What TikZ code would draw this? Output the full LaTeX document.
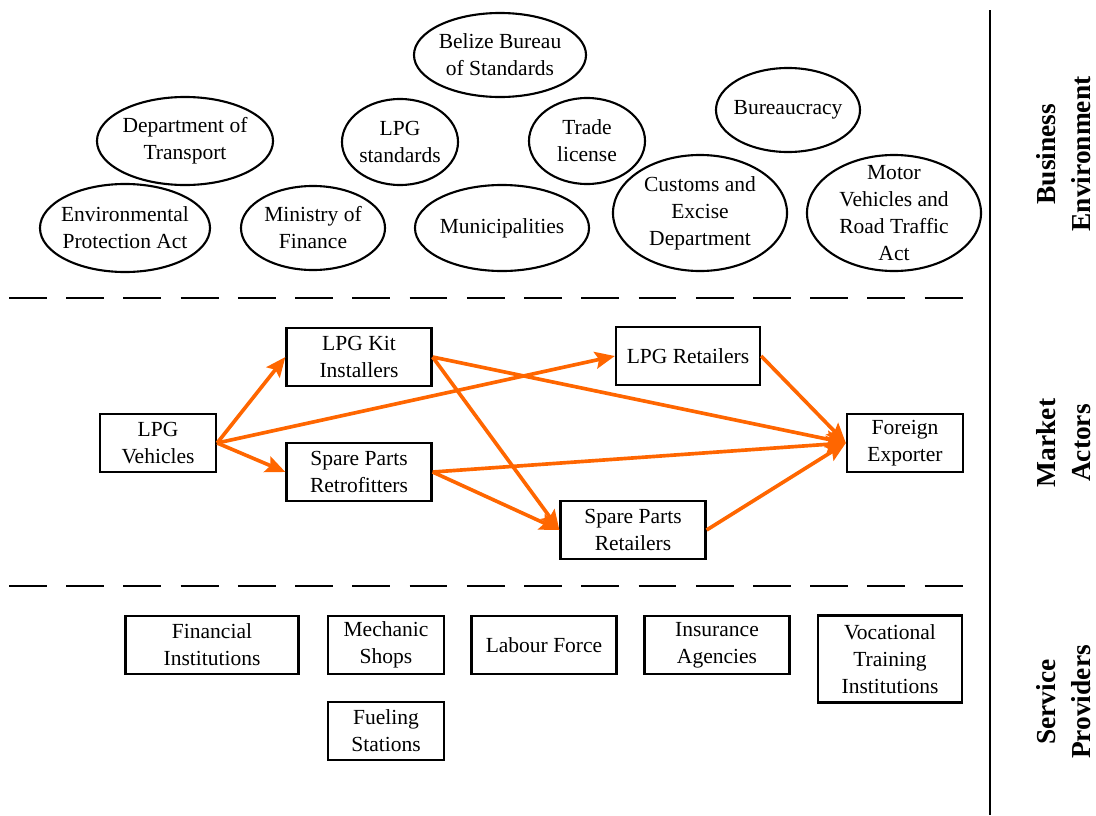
\documentclass[tikz,border=0pt]{standalone}
\usepackage{fontspec}
\setmainfont{Liberation Serif}
\usetikzlibrary{shapes.geometric,arrows.meta}
\definecolor{flowOrange}{HTML}{FF6600}

\begin{document}
\begin{tikzpicture}[x=0.025cm, y=-0.025cm,
  every node/.style={font=\fontsize{15.3}{19.2}\selectfont, align=center},
  bubble/.style={draw, ellipse, line width=1.5pt, inner sep=0pt},
  actor/.style={draw, rectangle, line width=1.6pt, inner sep=0pt, minimum height=1.45cm},
  side/.style={rotate=90, font=\bfseries\fontsize{19.5}{25}\selectfont},
  flow/.style={draw=flowOrange, line width=2.6pt, -{Stealth[length=14pt, width=12pt, inset=2.5pt]}},
  layer/.style={line width=1.8pt, dash pattern=on 26.9pt off 13.8pt}]
  \useasboundingbox (0,0) rectangle (1096,815);

  \node[bubble, minimum width=4.3cm, minimum height=2.1cm, label={center:Belize Bureau\\of Standards}] (bbs) at (500,55) {};
  \node[bubble, minimum width=4.4cm, minimum height=2.2cm, label={center:Department of\\Transport}] (dot) at (185,141) {};
  \node[bubble, minimum width=4.25cm, minimum height=2.2cm, label={center:Environmental\\Protection Act}] (epa) at (125,228) {};
  \node[bubble, minimum width=3.6cm, minimum height=2.1cm, label={center:Ministry of\\Finance}] (mof) at (313,228) {};
  \node[bubble, minimum width=2.9cm, minimum height=2.15cm, label={center:LPG\\standards}] (std) at (400,142) {};
  \node[bubble, minimum width=4.35cm, minimum height=2.15cm, label={center:Municipalities}] (mun) at (502,228) {};
  \node[bubble, minimum width=2.9cm, minimum height=2.15cm, label={center:Trade\\license}] (trd) at (587,141) {};
  \node[bubble, minimum width=3.6cm, minimum height=2.1cm, label={center:Bureaucracy}] (bur) at (788,110) {};
  \node[bubble, minimum width=4.35cm, minimum height=2.9cm, label={center:Customs and\\Excise\\Department}] (cus) at (700,213) {};
  \node[bubble, minimum width=4.35cm, minimum height=2.9cm, label={center:Motor\\Vehicles and\\Road Traffic\\Act}] (mva) at (894,213) {};

  \draw[layer] (9,298) -- (975,298);
  \draw[layer] (9,586) -- (975,586);
  \draw[line width=2pt] (990,10) -- (990,815);

  \node[actor, minimum width=2.9cm] (veh) at (158,443) {LPG\\Vehicles};
  \node[actor, minimum width=3.625cm] (kit) at (359,357) {LPG Kit\\Installers};
  \node[actor, minimum width=3.625cm] (retro) at (359,472) {Spare Parts\\Retrofitters};
  \node[actor, minimum width=3.6cm] (lpgr) at (688,356) {LPG Retailers};
  \node[actor, minimum width=3.625cm] (spr) at (633,530) {Spare Parts\\Retailers};
  \node[actor, minimum width=2.9cm] (fexp) at (905,443) {Foreign\\Exporter};

  \foreach \a/\b in {veh/kit, veh/retro, veh/lpgr, kit/fexp, kit/spr, retro/fexp, retro/spr, lpgr/fexp, spr/fexp}
    \draw[flow] (\a.east) -- (\b.west);

  \node[actor, minimum width=4.325cm] (fin) at (212,645) {Financial\\Institutions};
  \node[actor, minimum width=2.9cm] (mech) at (386,645) {Mechanic\\Shops};
  \node[actor, minimum width=3.625cm] (lab) at (544,645) {Labour Force};
  \node[actor, minimum width=3.625cm] (ins) at (717,645) {Insurance\\Agencies};
  \node[actor, minimum width=3.6cm, minimum height=2.175cm] (voc) at (890,659) {Vocational\\Training\\Institutions};
  \node[actor, minimum width=2.9cm] (fuel) at (386,731) {Fueling\\Stations};

  \node[side] (be) at (1064,154) {Business\\Environment};
  \node[side] (ma) at (1064,443) {Market\\Actors};
  \node[side] (sp) at (1064,702) {Service\\Providers};
\end{tikzpicture}
\end{document}
